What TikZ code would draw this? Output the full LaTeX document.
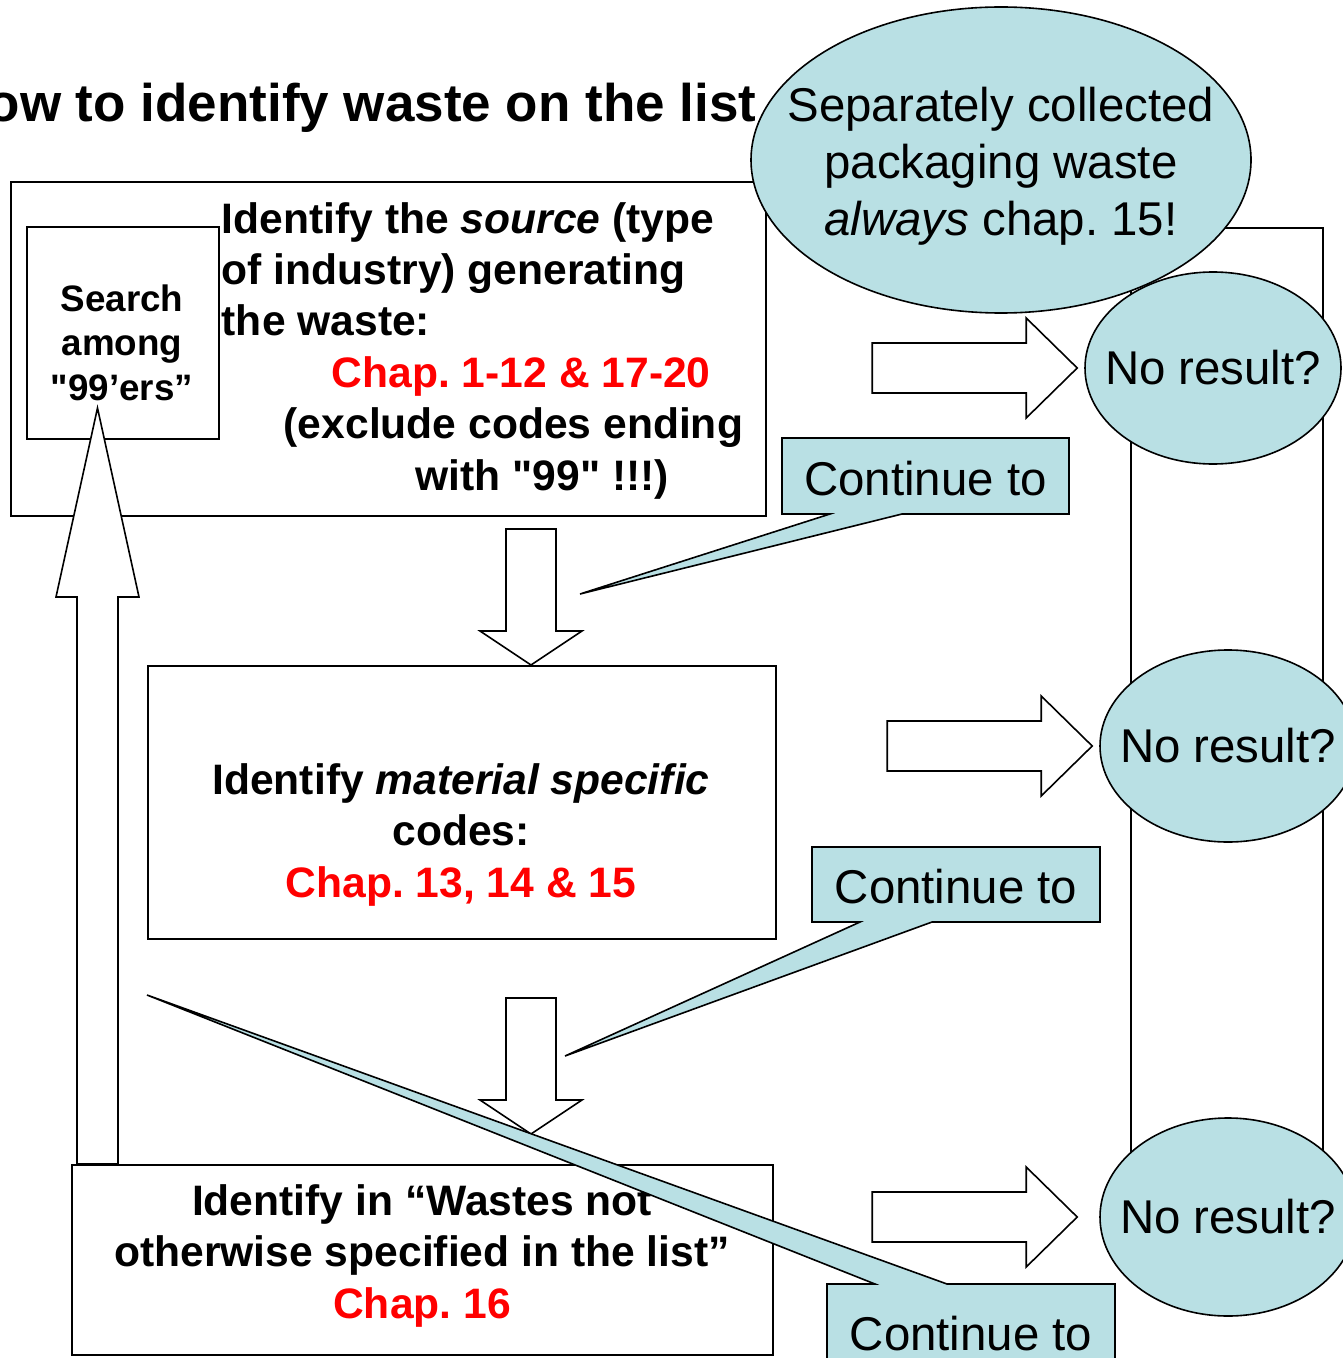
\documentclass[tikz,border=0pt]{standalone}
\usepackage{fontspec}
\setmainfont{Liberation Sans}
\usepackage{xcolor}
\usepackage{tikz}
\usetikzlibrary{shapes.geometric, calc}
\definecolor{bubbleblue}{RGB}{185,224,228}
\frenchspacing
\tikzstyle{box} = [rectangle, anchor=north west, inner sep=0pt, draw=black, fill=white]
\tikzstyle{boxtext} = [inner sep=0pt, anchor=base, align=center, font=\fontsize{21.3}{25.7}\selectfont\bfseries]
\tikzstyle{bubble} = [ellipse, inner sep=0pt, draw=black, fill=bubbleblue]
\tikzstyle{bubbletext} = [inner sep=0pt, align=center, font=\fontsize{23.7}{28.5}\selectfont]
\tikzstyle{callout} = [draw=black, fill=bubbleblue, line join=miter]
\tikzstyle{calltext} = [inner sep=0pt, anchor=base, font=\fontsize{23.7}{28.5}\selectfont]
\tikzstyle{blockarrow} = [draw=black, fill=white, line join=miter]

\begin{document}
\begin{tikzpicture}[x=0.5pt, y=-0.5pt, line width=0.8pt]
   \useasboundingbox (0,0) rectangle (1342,1358);
   \node (title) [anchor=base east, inner sep=0pt, font=\fontsize{26.5}{30}\selectfont\bfseries] at (757,122) {ow to identify waste on the list};
   % column behind the bubbles
   \node (column) [box, fill=none, minimum width=96pt, minimum height=486.5pt] at (1130,227) {};
   % boxes
   \node (source) [box, minimum width=377.5pt, minimum height=167pt] at (10,181) {};
   \node (search) [box, minimum width=96pt, minimum height=106pt] at (26,226) {};
   \node (material) [box, minimum width=314pt, minimum height=136.5pt] at (147,665) {};
   \node (nos) [box, minimum width=350.5pt, minimum height=95pt] at (71,1164) {};
   \node (sourcetext) [boxtext, anchor=base west, align=left] at (221,490) {Identify the \textit{source} (type\\ of industry) generating\\ the waste:\\ \hspace*{55pt}\textcolor{red}{Chap. 1-12 \& 17-20}\\ \hspace*{31pt}(exclude codes ending\\ \hspace*{97pt}with \textquotedbl 99\textquotedbl\ !!!)};
   \node (searchtext) [boxtext, font=\fontsize{18.4}{22}\selectfont\bfseries] at (122,400) {Search\\ among\\ \textquotedbl 99’ers”};
   \node (materialtext) [boxtext] at (461,897) {Identify \textit{material specific}\\ codes:\\ \textcolor{red}{Chap. 13, 14 \& 15}};
   \node (nostext) [boxtext] at (422,1318) {Identify in “Wastes not\\ otherwise specified in the list”\\ \textcolor{red}{Chap. 16}};
   % bubbles
   \node (nores1) [bubble, minimum width=128pt, minimum height=96pt] at (1213,368) {};
   \node (nores2) [bubble, minimum width=128pt, minimum height=96pt] at (1228,746) {};
   \node (nores3) [bubble, minimum width=128pt, minimum height=99pt] at (1228,1217) {};
   \node (packaging) [bubble, minimum width=250pt, minimum height=153pt] at (1001,160) {};
   \foreach \b in {nores1, nores2, nores3}
      \node (\b text) [bubbletext] at (\b.center) {No result?};
   \node (packagingtext) [bubbletext, anchor=base] at (1001,236) {Separately collected\\ packaging waste\\ \textit{always} chap. 15!};
   % block arrows
   \coordinate (downA) at ($(material.north west)+(384,0)$);
   \coordinate (downB) at ($(nos.north west)+(460,-30)$);
   \coordinate (upTip) at (97.5,408);
   \coordinate (upTail) at ($(nos.north west)+(26.5,0)$);
   \draw[blockarrow] (downA) -- ++(51,-34) -- ++(-26,0) -- ++(0,-102) -- ++(-50,0) -- ++(0,102) -- ++(-26,0) -- cycle;
   \draw[blockarrow] (downB) -- ++(51,-34) -- ++(-26,0) -- ++(0,-102) -- ++(-50,0) -- ++(0,102) -- ++(-26,0) -- cycle;
   \draw[blockarrow] (upTail) -- ++(20.5,0) -- ++(0,-567) -- ++(21,0) -- (upTip) -- ($(upTip)+(-41.5,189)$) -- ++(21,0) -- ++(0,567) -- cycle;
   \foreach \b/\dx in {nores1/7, nores2/7, nores3/22}
      \draw[blockarrow] ($(\b.west)+(-\dx,0)$) -- ++(-51,-50) -- ++(0,25) -- ++(-154,0) -- ++(0,50) -- ++(154,0) -- ++(0,25) -- cycle;
   % callouts
   \coordinate (point1) at (580,594);
   \coordinate (point2) at (565,1056);
   \coordinate (point3) at (147,995);
   \filldraw[callout] (782,438) -- (1069,438) -- (1069,514) -- (902,514) -- (point1) -- (830,514) -- (782,514) -- cycle;
   \node (cont1) [calltext] at (925.5,495) {Continue to};
   \filldraw[callout] (812,847) -- (1100,847) -- (1100,922) -- (932,922) -- (point2) -- (860,922) -- (812,922) -- cycle;
   \node (cont2) [calltext] at (956,903) {Continue to};
   \filldraw[callout] (827,1284) -- (875,1284) -- (point3) -- (947,1284) -- (1115,1284) -- (1115,1390) -- (827,1390) -- cycle;
   \node (cont3) [calltext] at (971,1350) {Continue to};
\end{tikzpicture}
\end{document}
